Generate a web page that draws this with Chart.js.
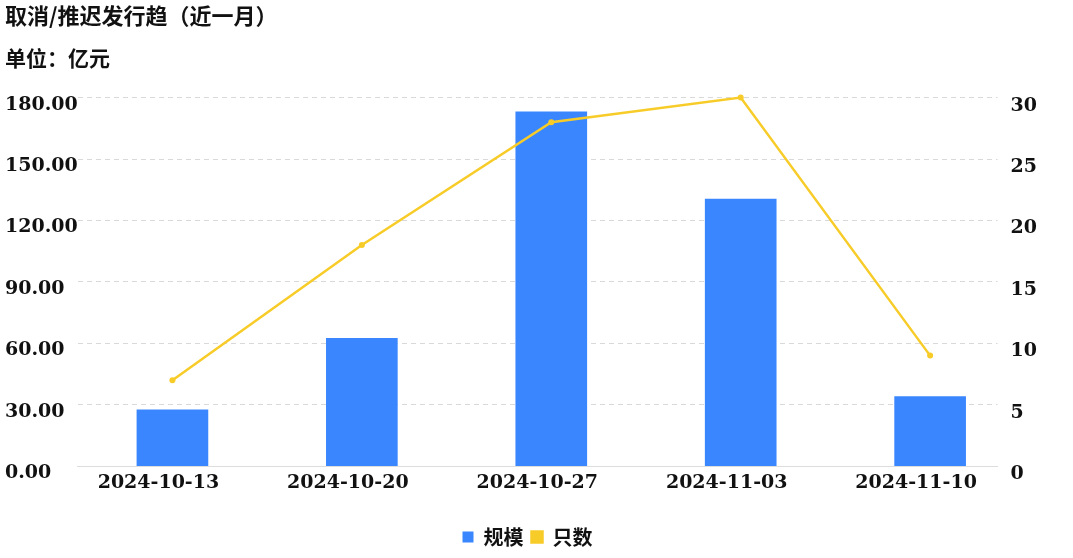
<!DOCTYPE html>
<html>
<head>
<meta charset="utf-8">
<script src="https://cdn.jsdelivr.net/npm/chart.js@4.4.1/dist/chart.umd.min.js"></script>
<style>
  html, body { margin: 0; padding: 0; background: #fff; }
  #wrap { width: 1073px; height: 558px; }
</style>
</head>
<body>
<div id="wrap"><canvas id="chart"></canvas></div>
<script>
const DATES  = ['2024-10-13', '2024-10-20', '2024-10-27', '2024-11-03', '2024-11-10'];
const GUIMO  = [27.5, 62.5, 173, 130.5, 34];   // 规模 (亿元)
const ZHISHU = [7, 18, 28, 30, 9];              // 只数
const LEFT_TICKS  = [0, 30, 60, 90, 120, 150, 180];
const RIGHT_TICKS = [0, 5, 10, 15, 20, 25, 30];

const BLUE   = '#3a86ff';
const YELLOW = '#f8cc28';
const GRID   = '#d9d9d9';

Chart.defaults.font.family = "'DejaVu Serif', 'Noto Sans CJK SC', serif";
Chart.defaults.font.weight = 'bold';
Chart.defaults.font.size = 19;
Chart.defaults.color = '#111';

new Chart(document.getElementById('chart'), {
  data: {
    datasets: [
      {
        type: 'bar',
        label: '规模',
        data: GUIMO.map((v, i) => ({ x: i, y: v })),
        backgroundColor: BLUE,
        borderWidth: 0,
        barThickness: 71,
        yAxisID: 'y',
        order: 2,
      },
      {
        type: 'line',
        label: '只数',
        data: ZHISHU.map((v, i) => ({ x: i, y: v })),
        borderColor: YELLOW,
        backgroundColor: YELLOW,
        borderWidth: 2.5,
        pointRadius: 3,
        pointBorderWidth: 0,
        tension: 0,
        clip: false,
        yAxisID: 'y1',
        order: 1,
      },
    ],
  },
  options: {
    responsive: true,
    maintainAspectRatio: false,
    animation: false,
    layout: { padding: { left: 5, right: 23, top: 0, bottom: 1 } },
    plugins: {
      title: {
        display: true,
        text: '取消/推迟发行趋（近一月）',
        align: 'start',
        font: { family: "'Noto Sans CJK SC', sans-serif", size: 22, weight: 'bold' },
        padding: { top: 2, bottom: 17 },
      },
      subtitle: {
        display: true,
        text: '单位：亿元',
        align: 'start',
        color: '#111',
        font: { family: "'Noto Sans CJK SC', sans-serif", size: 21, weight: 'bold' },
        padding: { top: 0, bottom: 27 },
      },
      legend: {
        position: 'bottom',
        labels: {
          boxWidth: 11,
          boxHeight: 11,
          padding: 8,
          sort: (a, b) => a.datasetIndex - b.datasetIndex,
          font: { family: "'Noto Sans CJK SC', sans-serif", size: 20, weight: 'bold' },
        },
      },
      tooltip: { enabled: false },
    },
    scales: {
      x: {
        type: 'linear',
        offset: false,
        min: -0.5,
        max: 4.356,
        afterBuildTicks: s => { s.ticks = DATES.map((_, i) => ({ value: i })); },
        afterFit: s => { s.height += 28; },
        ticks: {
          callback: v => DATES[v] ?? '',
          labelOffset: -14,
          padding: -3,
          maxRotation: 0,
          autoSkip: false,
        },
        grid: { display: false },
        border: { display: true, color: '#dddddd', width: 1 },
      },
      y: {
        position: 'left',
        min: 0,
        max: 180,
        afterBuildTicks: s => { s.ticks = LEFT_TICKS.map(v => ({ value: v })); },
        ticks: {
          callback: v => v.toFixed(2),
          crossAlign: 'far',
          padding: 0,
          labelOffset: 7,
        },
        grid: { color: GRID, drawTicks: false, tickLength: 0 },
        border: { display: false, dash: [5, 4] },
      },
      y1: {
        position: 'right',
        min: 0,
        max: 30,
        afterBuildTicks: s => { s.ticks = RIGHT_TICKS.map(v => ({ value: v })); },
        ticks: {
          padding: 13,
          labelOffset: 8,
        },
        grid: { drawOnChartArea: false, drawTicks: false },
        border: { display: false },
      },
    },
  },
});
</script>
</body>
</html>
